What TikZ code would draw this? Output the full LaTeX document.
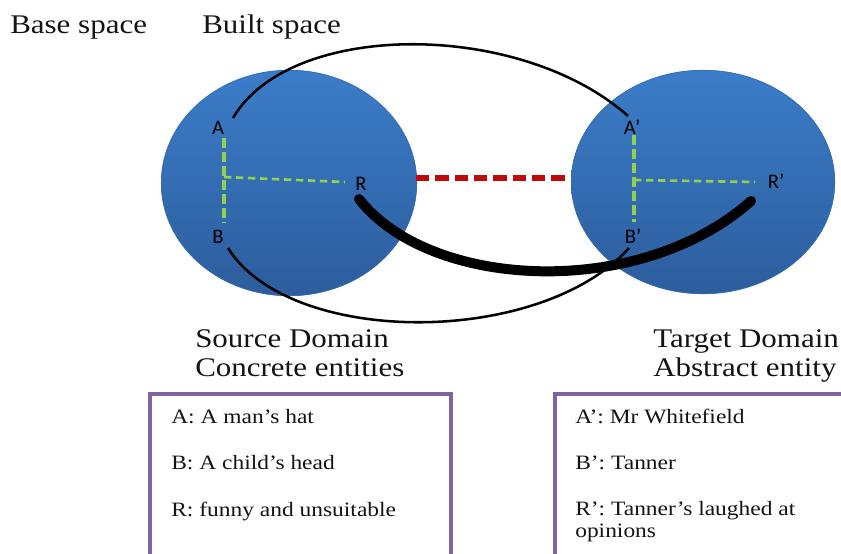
\documentclass[tikz,border=0pt]{standalone}
\usepackage{fontspec}
\setmainfont{Liberation Serif}
\newfontfamily\capfont[FakeStretch=1.15]{Liberation Serif}
\newfontfamily\lblfont{Carlito}
\definecolor{blueTop}{RGB}{60,126,203}
\definecolor{blueBot}{RGB}{44,92,155}
\definecolor{linkGreen}{RGB}{146,208,80}
\definecolor{linkRed}{RGB}{192,10,10}
\definecolor{boxPurple}{RGB}{128,100,162}
\definecolor{ink}{RGB}{20,20,20}
\tikzset{
  rim/.style={draw=blueTop!50!blueBot, line width=0.5pt},
  pointlbl/.style={font=\lblfont\fontsize{15.5}{17}\selectfont, text=black, inner sep=0pt},
  heading/.style={anchor=base west, inner sep=0pt, text=ink, font=\capfont\fontsize{20.2}{24}\selectfont},
  boxtext/.style={anchor=base west, inner sep=0pt, text=ink, font=\capfont\fontsize{15.3}{18}\selectfont},
  vlink/.style={draw=linkGreen, line width=2.8pt, dash pattern=on 7.5pt off 3pt},
  hlink/.style={draw=linkGreen, line width=2pt, dash pattern=on 5.5pt off 3.5pt},
  reddash/.style={draw=linkRed, line width=3.8pt, dash pattern=on 10pt off 4.5pt},
  thinarc/.style={draw=black, line width=1.9pt},
  thickarc/.style={draw=black, line width=7.5pt, line cap=round},
  legend/.style={draw=boxPurple, line width=2.4pt}
}
\begin{document}
\begin{tikzpicture}[x=0.75pt, y=-0.75pt]
  \useasboundingbox (0,0) rectangle (841,553);
  \clip (0,0) rectangle (841,553);
  \fill[white] (0,0) rectangle (841,553);

  % headings
  \node[heading] (base)  at (10,33)  {Base space};
  \node[heading] (built) at (202,33) {Built space};

  % the two domains, shaded from top to bottom
  \begin{scope}
    \clip (289,183) ellipse [x radius=128, y radius=113];
    \shade[top color=blueTop, bottom color=blueBot] (150,60) rectangle (430,300);
  \end{scope}
  \draw[rim] (289,183) ellipse [x radius=127.7, y radius=112.7];
  \begin{scope}
    \clip (703,182) ellipse [x radius=132, y radius=112];
    \shade[top color=blueTop, bottom color=blueBot] (560,60) rectangle (850,300);
  \end{scope}
  \draw[rim] (703,182) ellipse [x radius=131.7, y radius=111.7];
  \coordinate (src) at (289,183);
  \coordinate (tgt) at (703,182);

  % point labels
  \node[pointlbl] (A)  at (218,128) {A};
  \node[pointlbl] (B)  at (218,237) {B};
  \node[pointlbl] (R)  at (361,184) {R};
  \node[pointlbl] (A2) at (632,127) {A’};
  \node[pointlbl] (B2) at (633,236) {B’};
  \node[pointlbl] (R2) at (776,181) {R’};

  % connector ends
  \coordinate (aEnd)  at (233,118);
  \coordinate (a2End) at (628,116);
  \coordinate (bEnd)  at (228,248);
  \coordinate (b2End) at (629,248);
  \coordinate (rEnd)  at (359,199);
  \coordinate (r2End) at (751,201);
  \coordinate (vTop)  at (224,138);
  \coordinate (vBot)  at (224,223);
  \coordinate (vMid)  at (224,177);
  \coordinate (rIn)   at (345,182);
  \coordinate (v2Top) at (634,135);
  \coordinate (v2Bot) at (634,222);
  \coordinate (v2Mid) at (634,180);
  \coordinate (r2In)  at (755,182);
  \coordinate (srcEdge) at (416,178);
  \coordinate (tgtEdge) at (568,178);

  % links inside each domain
  \draw[vlink] (vTop) -- (vBot);
  \draw[hlink] (vMid) -- (rIn);
  \draw[vlink] (v2Top) -- (v2Bot);
  \draw[hlink] (v2Mid) -- (r2In);

  % link between domains
  \draw[reddash] (srcEdge) -- (tgtEdge);

  % mappings
  \draw[thinarc] (aEnd) .. controls (290,20) and (520,20) .. (a2End);
  \draw[thinarc] (bEnd) .. controls (290,347) and (540,347) .. (b2End);
  \draw[thickarc] (rEnd) .. controls (430,290) and (640,300) .. (r2End);

  % domain captions
  \node[heading] (srcT) at (195,347) {Source Domain};
  \node[heading] (srcS) at (195,376) {Concrete entities};
  \node[heading] (tgtT) at (653,347) {Target Domain};
  \node[heading] (tgtS) at (653,376) {Abstract entity};

  % legend boxes, running past the bottom and right edges
  \draw[legend] (150,600) -- (150,394) -- (451,394) -- (451,600);
  \draw[legend] (555,600) -- (555,394) -- (900,394);
  \node[boxtext] (l1) at (171,423) {A: A man’s hat};
  \node[boxtext] (l2) at (171,469) {B: A child’s head};
  \node[boxtext] (l3) at (171,516) {R: funny and unsuitable};
  \node[boxtext] (r1) at (575,423) {A’: Mr Whitefield};
  \node[boxtext] (r2) at (575,469) {B’: Tanner};
  \node[boxtext] (r3) at (575,515) {R’: Tanner’s laughed at};
  \node[boxtext] (r4) at (575,537) {opinions};
\end{tikzpicture}
\end{document}
